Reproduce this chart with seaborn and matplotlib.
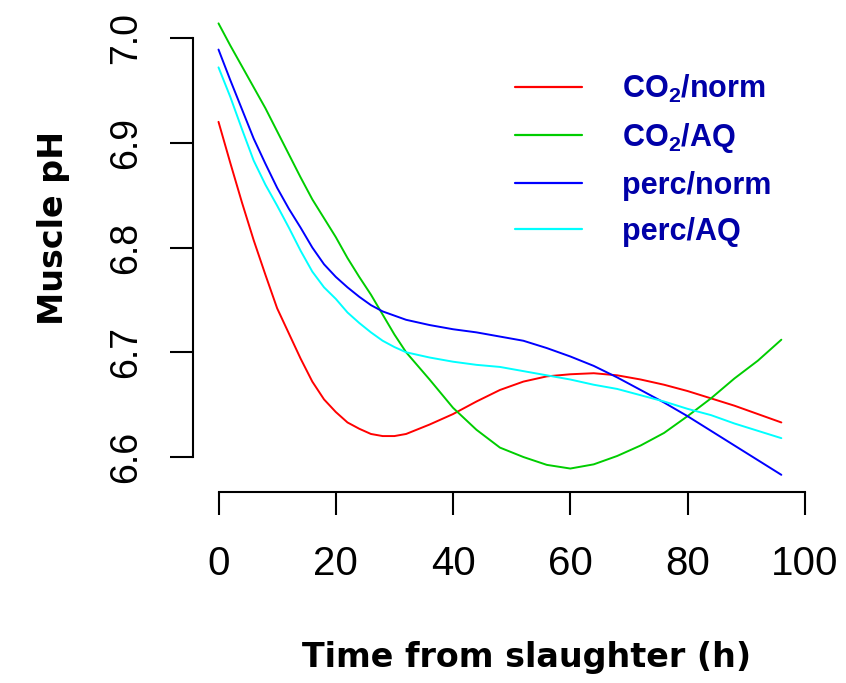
import pandas as pd
import matplotlib
matplotlib.use("Agg")
import matplotlib.pyplot as plt
from matplotlib.lines import Line2D
import seaborn as sns

# values (hours after slaughter, muscle pH)
time_h = [0, 2, 4, 6, 8, 10, 12, 14, 16, 18, 20, 22, 24, 26, 28, 30, 32,
          36, 40, 44, 48, 52, 56, 60, 64, 68, 72, 76, 80, 84, 88, 92, 96]
co2_norm = [6.920, 6.881, 6.843, 6.807, 6.774, 6.742, 6.718, 6.694, 6.672, 6.655, 6.643, 6.633, 6.627,
            6.622, 6.620, 6.620, 6.622,
            6.631, 6.641, 6.653, 6.664, 6.672, 6.677, 6.679, 6.680, 6.678, 6.674, 6.669, 6.663,
            6.656, 6.649, 6.641, 6.633]
co2_aq = [7.014, 6.993, 6.973, 6.953, 6.933, 6.911, 6.889, 6.867, 6.846, 6.828, 6.810, 6.790, 6.772,
          6.755, 6.736, 6.717, 6.700,
          6.674, 6.647, 6.626, 6.609, 6.600, 6.5925, 6.589, 6.593, 6.601, 6.611, 6.623, 6.639,
          6.656, 6.675, 6.692, 6.712]
perc_norm = [6.989, 6.960, 6.932, 6.904, 6.880, 6.857, 6.837, 6.819, 6.800, 6.784, 6.772, 6.762, 6.753,
             6.745, 6.739, 6.735, 6.731,
             6.726, 6.722, 6.719, 6.715, 6.711, 6.704, 6.696, 6.687, 6.676, 6.664, 6.652, 6.639,
             6.625, 6.611, 6.597, 6.583]
perc_aq = [6.972, 6.944, 6.913, 6.883, 6.860, 6.840, 6.819, 6.797, 6.777, 6.762, 6.751, 6.738, 6.728,
           6.719, 6.711, 6.705, 6.700,
           6.695, 6.691, 6.688, 6.686, 6.682, 6.678, 6.674, 6.669, 6.665, 6.659, 6.653, 6.646,
           6.640, 6.632, 6.625, 6.618]

groups = ["CO2/norm", "CO2/AQ", "perc/norm", "perc/AQ"]
legend_labels = ["CO$_2$/norm", "CO$_2$/AQ", "perc/norm", "perc/AQ"]
colors = {"CO2/norm": "#FF0000", "CO2/AQ": "#00CD00", "perc/norm": "#0000FF", "perc/AQ": "#00FFFF"}

x_ticks = [0, 20, 40, 60, 80, 100]
y_ticks = [6.6, 6.7, 6.8, 6.9, 7.0]

# long format for seaborn
frames = []
for name, vals in zip(groups, [co2_norm, co2_aq, perc_norm, perc_aq]):
    frames.append(pd.DataFrame({"time": time_h, "ph": vals, "group": name}))
df = pd.concat(frames, ignore_index=True)

sns.set_style("white")
plt.rcParams["font.family"] = ["Liberation Sans", "DejaVu Sans"]
plt.rcParams["text.color"] = "black"
plt.rcParams["axes.labelcolor"] = "black"
plt.rcParams["xtick.color"] = "black"
plt.rcParams["ytick.color"] = "black"
plt.rcParams["mathtext.fontset"] = "custom"
plt.rcParams["mathtext.bf"] = "Liberation Sans:bold"
plt.rcParams["mathtext.rm"] = "Liberation Sans:bold"
plt.rcParams["mathtext.default"] = "bf"

fig = plt.figure(figsize=(8.46, 6.83), dpi=100)
ax = fig.add_axes([193 / 846, 191 / 683, 637 / 846, 477 / 683])

sns.lineplot(data=df, x="time", y="ph", hue="group", palette=colors,
             linewidth=1.4, legend=False, sort=False, estimator=None, ax=ax)

ax.set_xlim(-4.35, 104.3)
ax.set_ylim(6.5666, 7.022)

for side in ["top", "right"]:
    ax.spines[side].set_visible(False)
ax.spines["left"].set_bounds(6.6, 7.0)
ax.spines["bottom"].set_bounds(0, 100)
for side in ["left", "bottom"]:
    ax.spines[side].set_linewidth(1.5)
    ax.spines[side].set_color("black")

ax.set_xticks(x_ticks)
ax.set_xticklabels([str(t) for t in x_ticks])
ax.set_yticks(y_ticks)
ax.set_yticklabels([f"{t:.1f}" for t in y_ticks], rotation=90, va="center")
ax.tick_params(axis="x", direction="out", length=16.5, width=1.5, pad=22, labelsize=29,
               bottom=True, colors="black")
ax.tick_params(axis="y", direction="out", length=16.5, width=1.5, pad=19, labelsize=27,
               left=True, colors="black")

ax.set_xlabel("Time from slaughter (h)", fontsize=24, fontweight="bold", family="DejaVu Sans")
ax.xaxis.label.set_va("baseline")
ax.xaxis.set_label_coords(0.524, -0.3669)
ax.set_ylabel("Muscle pH", fontsize=24, fontweight="bold", family="DejaVu Sans")
ax.yaxis.label.set_va("baseline")
ax.yaxis.set_label_coords(-0.204, 0.553)

handles = [Line2D([], [], color=colors[g], linewidth=1.6) for g in groups]
leg = ax.legend(handles, legend_labels, loc="upper left", bbox_to_anchor=(0.5055, 0.878),
                frameon=False, borderpad=0, borderaxespad=0, handlelength=2.2,
                handletextpad=1.3, labelspacing=0.52,
                prop={"family": "Liberation Sans", "weight": "bold", "size": 22})
for txt in leg.get_texts():
    txt.set_color("#0000A8")

fig.savefig("out.png", dpi=100, facecolor="white")
